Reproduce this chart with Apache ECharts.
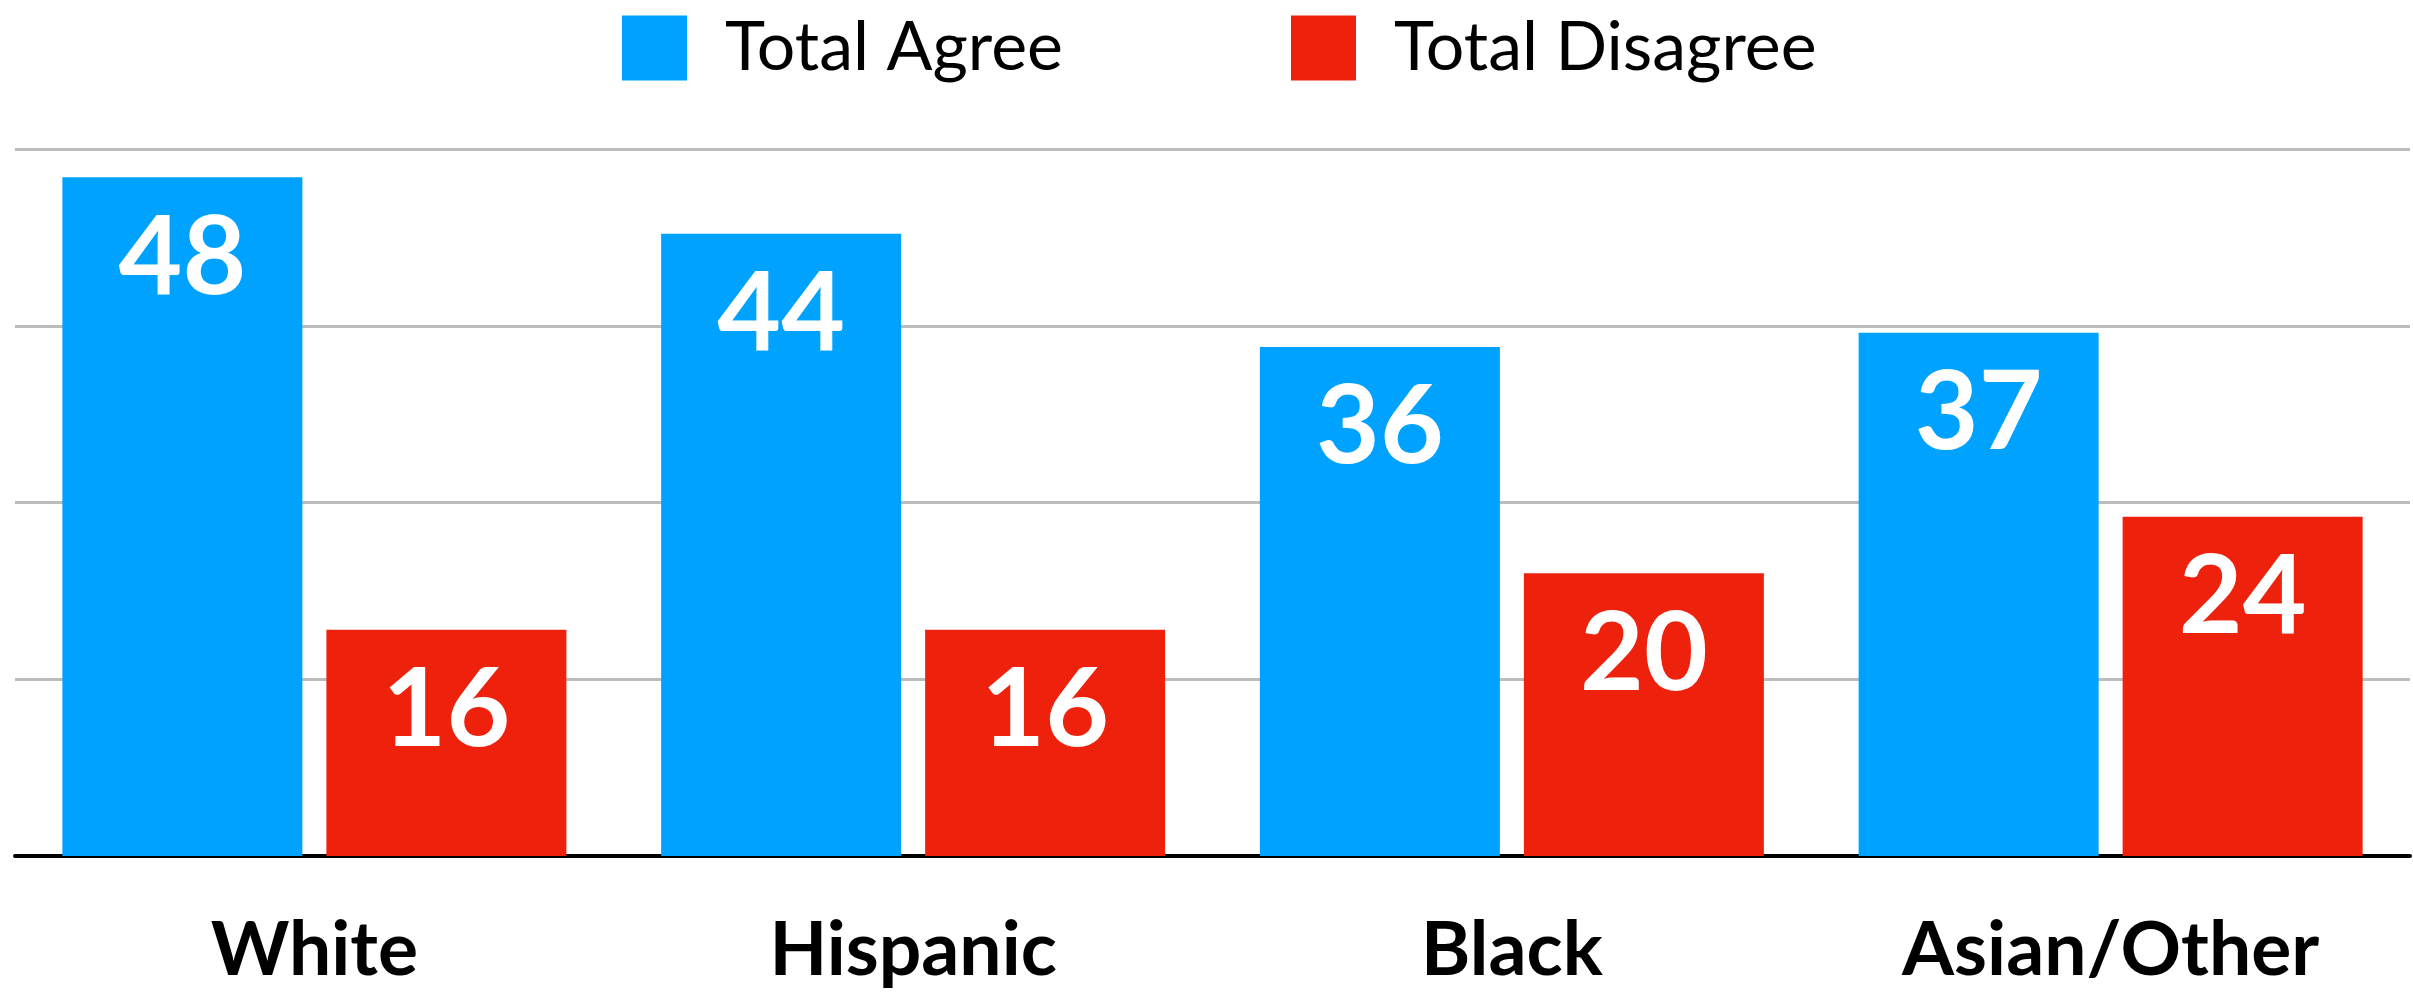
<!DOCTYPE html>
<html>
<head>
<meta charset="utf-8">
<script src="https://cdn.jsdelivr.net/npm/echarts@6/dist/echarts.min.js"></script>
<style>
html,body{margin:0;padding:0;background:#fff;}
#chart{width:2413px;height:992px;}
</style>
</head>
<body>
<div id="chart"></div>
<script>
const categories = ['White', 'Hispanic', 'Black', 'Asian/Other'];
const totalAgree = [48, 44, 36, 37];
const totalDisagree = [16, 16, 20, 24];
const seriesNames = ['Total Agree', 'Total Disagree'];

const chart = echarts.init(document.getElementById('chart'), null, {renderer: 'canvas'});
const labelStyle = {
  show: true,
  position: 'insideTop',
  distance: 26,
  color: '#ffffff',
  fontFamily: 'Lato',
  fontWeight: 'bold',
  fontSize: 110
};
chart.setOption({
  animation: false,
  backgroundColor: '#ffffff',
  legend: {
    left: 617,
    top: 9,
    icon: 'rect',
    itemWidth: 65,
    itemHeight: 65,
    itemGap: 228,
    textStyle: {
      fontFamily: 'Lato',
      fontSize: 68,
      color: '#000000',
      padding: [0, 0, 0, 33]
    },
    data: seriesNames
  },
  grid: {
    left: 15,
    right: 3,
    top: 149,
    bottom: 136,
    containLabel: false
  },
  xAxis: {
    type: 'category',
    data: categories,
    axisTick: {show: false},
    axisLine: {show: true, lineStyle: {color: '#000000', width: 4}},
    axisLabel: {
      margin: 57,
      fontFamily: 'Lato',
      fontWeight: 'bold',
      fontSize: 75,
      color: '#000000'
    }
  },
  yAxis: {
    type: 'value',
    min: 0,
    max: 50,
    interval: 12.5,
    axisLabel: {show: false},
    axisLine: {show: false},
    axisTick: {show: false},
    splitLine: {show: true, lineStyle: {color: '#BDBDBD', width: 3}}
  },
  series: [
    {
      name: seriesNames[0],
      type: 'bar',
      data: totalAgree,
      barWidth: 240,
      barGap: '10%',
      itemStyle: {color: '#00A2FF'},
      label: labelStyle
    },
    {
      name: seriesNames[1],
      type: 'bar',
      data: totalDisagree,
      barWidth: 240,
      itemStyle: {color: '#EE220C'},
      label: labelStyle
    }
  ]
});
</script>
</body>
</html>
